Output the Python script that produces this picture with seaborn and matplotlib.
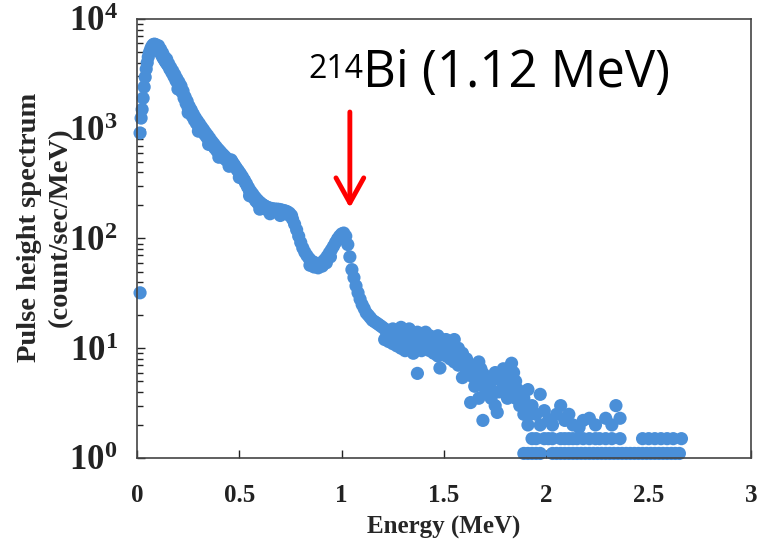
import numpy as np
import pandas as pd
import seaborn as sns
import matplotlib.pyplot as plt
from matplotlib.ticker import FuncFormatter, LogLocator

sns.set_style("white")
plt.rcParams['font.family'] = ['Liberation Serif', 'DejaVu Serif']
plt.rcParams['mathtext.fontset'] = 'custom'
plt.rcParams['mathtext.rm'] = 'Liberation Serif:bold'
plt.rcParams['mathtext.it'] = 'Liberation Serif:bold'
plt.rcParams['mathtext.bf'] = 'Liberation Serif:bold'

energy_main = [0.015, 0.015, 0.02, 0.025, 0.03, 0.035, 0.04, 0.045, 0.05, 0.055,
               0.06, 0.065, 0.07, 0.075, 0.08, 0.085, 0.09, 0.095, 0.10, 0.105,
               0.11, 0.115, 0.12, 0.125, 0.13, 0.135, 0.14, 0.145, 0.15, 0.16,
               0.17, 0.18, 0.19, 0.20, 0.21, 0.22, 0.23, 0.24, 0.25, 0.26,
               0.27, 0.28, 0.29, 0.30, 0.31, 0.32, 0.33, 0.34, 0.35, 0.36,
               0.37, 0.38, 0.39, 0.40, 0.41, 0.42, 0.43, 0.44, 0.45, 0.46,
               0.47, 0.48, 0.49, 0.50, 0.51, 0.52, 0.53, 0.54, 0.55, 0.56,
               0.57, 0.58, 0.59, 0.60, 0.61, 0.62, 0.63, 0.64, 0.65, 0.66,
               0.67, 0.68, 0.69, 0.70, 0.71, 0.72, 0.73, 0.74, 0.75, 0.76,
               0.77, 0.78, 0.79, 0.80, 0.81, 0.82, 0.83, 0.84, 0.85, 0.86,
               0.87, 0.88, 0.89, 0.90, 0.91, 0.92, 0.93, 0.94, 0.95, 0.96,
               0.97, 0.98, 0.99, 1.00, 1.01, 1.02, 1.03, 1.04, 1.05, 1.06,
               1.07, 1.08, 1.09, 1.10, 1.11, 1.12, 1.13, 1.14, 1.15, 1.16,
               1.17, 1.18, 1.19, 1.20]
rate_main = [32, 915, 1250, 1500, 1900, 2400, 2950, 3500, 4000, 4500,
             4900, 5200, 5500, 5700, 5850, 5900, 5850, 5700, 5500, 5300,
             5100, 4900, 4700, 4500, 4350, 4200, 4050, 3950, 3800, 3500,
             3250, 3000, 2750, 2550, 2400, 2150, 1900, 1700, 1550, 1420,
             1300, 1200, 1120, 1060, 1000, 950, 890, 840, 790, 740,
             700, 665, 630, 600, 575, 550, 530, 510, 500, 520,
             480, 450, 420, 395, 370, 345, 320, 295, 270, 250,
             235, 220, 210, 200, 195, 190, 185, 182, 180, 178,
             177, 176, 175, 175, 172, 170, 168, 165, 160, 150,
             135, 120, 105, 92, 82, 75, 70, 66, 63, 61,
             60, 59, 59, 60, 62, 65, 69, 74, 79, 85,
             92, 99, 105, 110, 112, 105, 88, 68, 52, 44,
             37, 32, 28, 25, 23, 21, 20, 19, 18, 17.5,
             17, 16.5, 16, 15.5]

##spread of the band (upper / lower edge points)
energy_band = [0.105, 0.115, 0.125, 0.135, 0.145, 0.155, 0.165, 0.175, 0.185, 0.195,
               0.205, 0.215, 0.225, 0.235, 0.245, 0.255, 0.265, 0.275, 0.285, 0.295,
               0.305, 0.315, 0.325, 0.335, 0.345, 0.355, 0.365, 0.375, 0.385, 0.395,
               0.405, 0.415, 0.425, 0.435, 0.445, 0.455, 0.465, 0.475, 0.485, 0.495,
               0.505, 0.515, 0.525, 0.535, 0.545, 0.555, 0.565, 0.575, 0.585, 0.595,
               0.605, 0.615, 0.625, 0.635, 0.645, 0.655, 0.665, 0.675, 0.685, 0.695,
               0.705, 0.715, 0.725, 0.735, 0.745, 0.755, 0.845, 0.865, 0.885, 0.905,
               0.925, 0.945, 0.995, 1.005,
               0.20, 0.25, 0.30, 0.35, 0.40, 0.45, 0.50, 0.55, 0.60, 0.65, 0.70]
rate_band = [5700, 5300, 4900, 4500, 4300, 3900, 3600, 3350, 3100, 2850,
             2650, 2450, 2200, 1950, 1780, 1600, 1480, 1360, 1260, 1180,
             1110, 1040, 980, 920, 870, 820, 770, 730, 690, 655,
             625, 595, 570, 545, 525, 510, 500, 470, 440, 415,
             390, 365, 340, 315, 290, 270, 255, 240, 228, 218,
             210, 203, 198, 193, 190, 188, 186, 185, 185, 184,
             182, 180, 178, 175, 170, 162, 57, 55, 54, 56,
             60, 68, 100, 104,
             2300, 1400, 950, 720, 550, 455, 360, 245, 185, 168, 162]

##tail part (scattered points above 1.2 MeV)
energy_tail = [1.21, 1.21, 1.23, 1.23, 1.25, 1.25, 1.27, 1.27, 1.29, 1.29,
               1.31, 1.31, 1.33, 1.33, 1.35, 1.35, 1.37, 1.37, 1.37, 1.39,
               1.39, 1.41, 1.41, 1.43, 1.43, 1.45, 1.45, 1.47, 1.47, 1.48,
               1.49, 1.49, 1.51, 1.51, 1.53, 1.53, 1.55, 1.55, 1.57, 1.57,
               1.59, 1.59, 1.61, 1.61, 1.63, 1.63, 1.65, 1.65, 1.67, 1.67,
               1.69, 1.69, 1.69, 1.71, 1.71, 1.73, 1.73, 1.75, 1.75, 1.76,
               1.77, 1.77, 1.79, 1.79, 1.81, 1.81, 1.83, 1.83, 1.85, 1.85,
               1.87, 1.87, 1.89, 1.89, 1.91, 1.91, 1.93, 1.93, 1.95, 1.95,
               1.97, 1.97, 1.99, 1.99, 2.01, 2.01, 2.03, 2.03, 2.05, 2.07,
               2.07, 2.09, 2.09, 2.11, 2.11, 2.13, 2.13, 2.15, 2.16, 2.18,
               2.18, 2.21, 2.21, 2.24, 2.24, 2.26, 2.29, 2.29, 2.32, 2.32,
               2.34, 2.36, 2.36, 2.47, 2.50, 2.53, 2.56, 2.59, 2.62, 2.66,
               1.22, 1.24, 1.26, 1.28, 1.30, 1.32, 1.34, 1.36, 1.38, 1.40,
               1.42, 1.44, 1.46, 1.48, 1.50, 1.52, 1.54, 1.56, 1.58, 1.60,
               1.62, 1.64, 1.66, 1.68, 1.70, 1.72, 1.74, 1.78, 1.80, 1.82,
               1.84, 1.86, 1.88, 1.90, 1.92]
rate_tail = [15, 12, 14.5, 11.5, 15, 11, 14, 10.5, 15.5, 10,
             14, 9.5, 15, 11, 13, 9, 14, 10, 5.9, 13.5,
             9.5, 14, 10, 13, 9.5, 12.5, 9, 13, 8.5, 6.6,
             12, 9, 12, 8.5, 11.5, 8, 12, 7.5, 10, 7,
             9, 5.4, 8, 6, 7, 3.2, 6, 4.5, 7.5, 3.5,
             5.9, 4.5, 2.2, 5.5, 4, 5, 3.5, 6, 3, 2.6,
             5.5, 4, 6.5, 4.5, 5.5, 3.5, 7.3, 4.5, 5, 3.5,
             4, 3, 3.5, 2.5, 4.2, 2.0, 3, 1.5, 2.5, 1.5,
             3.8, 2, 2.7, 1.5, 2.2, 1.5, 2, 1.5, 2.5, 3.0,
             1.5, 2.2, 1.5, 2.5, 1.5, 2, 1.5, 1.5, 1.9, 2.2,
             1.5, 2.3, 1.5, 2, 1.5, 1.5, 2.3, 1.5, 2.0, 1.5,
             3.0, 2.3, 1.5, 1.5, 1.5, 1.5, 1.5, 1.5, 1.5, 1.5,
             13, 12.5, 13, 12, 12.5, 11.5, 12, 11, 11.5, 11.5,
             11, 11, 10.5, 10.5, 10, 10, 9.5, 9, 8, 7,
             6.5, 5.5, 5, 6.5, 5, 4.5, 4, 5, 4.8, 4,
             6, 4.2, 3.2, 3, 2.5]

##lowest row of the tail (one count level)
energy_floor = [1.89, 1.91, 1.93, 1.95, 1.97, 2.03, 2.05, 2.07, 2.09, 2.11,
                2.13, 2.15, 2.17, 2.19, 2.21, 2.23, 2.25, 2.27, 2.29, 2.31,
                2.33, 2.35, 2.37, 2.39, 2.41, 2.43, 2.45, 2.47, 2.49, 2.51,
                2.53, 2.55, 2.57, 2.59, 2.61, 2.63, 2.65]
rate_floor = [1.1] * len(energy_floor)

x_ticks = [0, 0.5, 1, 1.5, 2, 2.5, 3]
peak_energy = 1.04          # where the arrow points
peak_label = "Bi (1.12 MeV)"
peak_isotope = "214"

spec = pd.DataFrame({
    'Energy': energy_main + energy_band + energy_tail + energy_floor,
    'Rate': rate_main + rate_band + rate_tail + rate_floor,
})

fig, ax = plt.subplots(figsize=(7.59, 5.5), dpi=100)
fig.subplots_adjust(left=0.1805, right=0.9895, top=0.9655, bottom=0.1673)

sns.scatterplot(data=spec, x='Energy', y='Rate', ax=ax, s=90,
                color='#4a8fd8', edgecolor='none', linewidth=0, clip_on=False)

ax.set_yscale('log')
ax.set_xlim(0, 3)
ax.set_ylim(1, 1e4)
ax.set_xticks(x_ticks)
ax.xaxis.set_major_formatter(FuncFormatter(lambda v, p: '%g' % v))
ax.yaxis.set_major_locator(LogLocator(base=10, numticks=10))
ax.yaxis.set_minor_locator(LogLocator(base=10, subs=np.arange(2, 10), numticks=20))
ax.yaxis.set_major_formatter(FuncFormatter(lambda v, p: r'$\mathrm{10^{%d}}$' % round(np.log10(v))))

ax.tick_params(axis='both', which='both', direction='in', colors='#222222',
               top=False, right=False, left=True, bottom=True)
ax.tick_params(axis='both', which='major', length=6, width=1)
ax.tick_params(axis='y', which='minor', length=4, width=1)
ax.tick_params(axis='x', which='major', labelsize=18, pad=19)
ax.tick_params(axis='y', which='major', labelsize=25, pad=14)
for lab in ax.get_xticklabels():
    lab.set_fontweight('bold')

for sp in ax.spines.values():
    sp.set_color('#444444')
    sp.set_linewidth(1.2)

ax.set_xlabel('Energy (MeV)', fontsize=18, fontweight='bold', labelpad=6)
ax.set_ylabel('Pulse height spectrum\n(count/sec/MeV)', fontsize=20.5,
              fontweight='bold', linespacing=1.3)
ax.yaxis.set_label_coords(-0.104, 0.526)

##annotation for the Bi-214 peak
ax.annotate('', xy=(peak_energy, 190), xytext=(peak_energy, 1420),
            arrowprops=dict(arrowstyle='->,head_length=0.72,head_width=0.4',
                            color='red', lw=3.5, mutation_scale=25,
                            shrinkA=0, shrinkB=0))
ax.text(1.104, 2400, peak_label, fontsize=36.5, family=['Open Sans', 'DejaVu Sans'],
        ha='left', va='baseline', color='black')
ax.text(1.104, 4900, peak_isotope, fontsize=23, family=['Open Sans', 'DejaVu Sans'],
        ha='right', va='top', color='black')

plt.savefig('out.png', dpi=100)
